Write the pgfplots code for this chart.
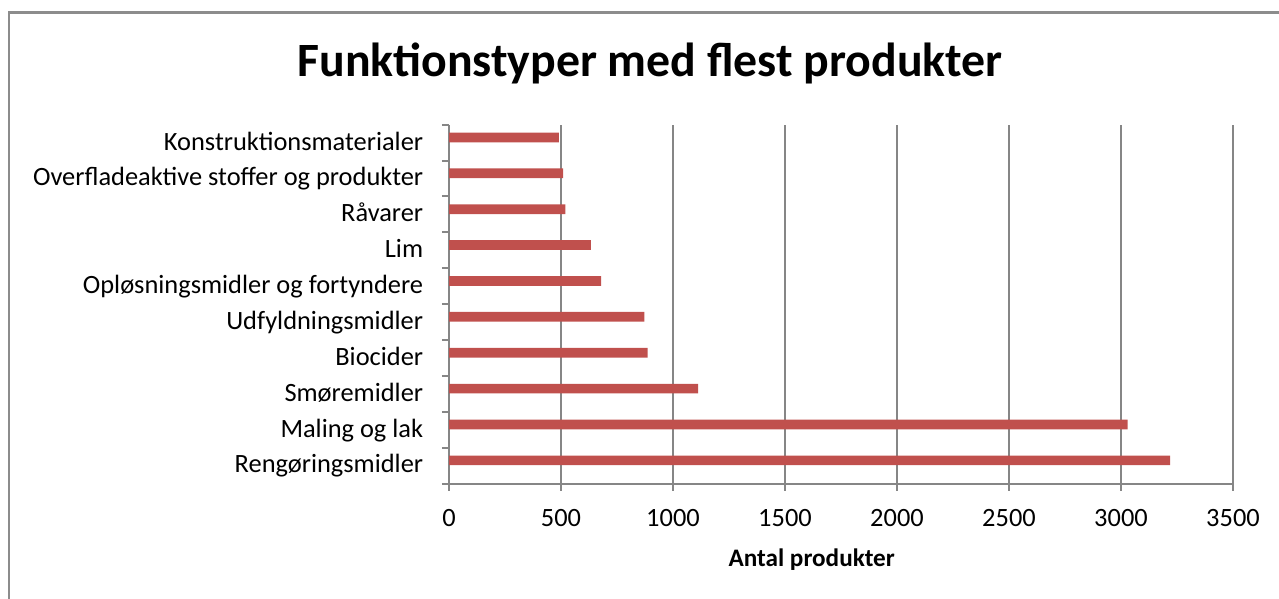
\documentclass[border=0pt]{standalone}
\usepackage{pgfplots}
\pgfplotsset{compat=1.18}
\usepackage{fontspec}
\setmainfont{Carlito}
\definecolor{barred}{HTML}{C0504D}
\definecolor{axisgray}{HTML}{868686}
\definecolor{framegray}{HTML}{8C8C8C}

\begin{document}
\begin{tikzpicture}
\useasboundingbox (0,0) rectangle (639.5pt,-299.5pt);
% chart frame (right and bottom edges lie outside the picture)
\draw[framegray, line width=1.3pt] (4.5pt,-320pt) -- (4.5pt,-6.35pt) -- (660pt,-6.35pt);
\begin{axis}[
    at={(224.5pt,-241.75pt)}, anchor=south west,
    scale only axis,
    width=392pt, height=179.4pt,
    xbar, bar width=4.85pt, bar shift=2.6pt,
    xmin=0, xmax=3500,
    ymin=0.5, ymax=10.5,
    xtick={0,500,...,3500},
    ytick={0.5,1.5,...,10.5},
    yticklabels={},
    extra y ticks={1,...,10},
    extra y tick labels={Rengøringsmidler, Maling og lak, Smøremidler, Biocider, Udfyldningsmidler, Opløsningsmidler og fortyndere, Lim, Råvarer, Overfladeaktive stoffer og produkter, Konstruktionsmaterialer},
    extra y tick style={major tick length=0pt, yticklabel style={anchor=base east, yshift=-3.7pt, xshift=-9.4pt}},
    axis lines*=left,
    axis line style={axisgray, line width=1pt},
    tick style={axisgray, line width=1pt},
    tick align=outside,
    major tick length=3.5pt,
    xmajorgrids, ymajorgrids=false,
    major grid style={axisgray, line width=1pt},
    /pgf/number format/assume math mode=true,
    /pgf/number format/1000 sep={},
    tick label style={font=\fontsize{13.2pt}{15pt}\selectfont, text=black},
    xticklabel style={anchor=base, yshift=-17.8pt},
    xlabel={Antal produkter},
    xlabel style={at={(axis description cs:0.4626,0)}, anchor=base, yshift=-41.25pt, font=\fontsize{12.6pt}{15pt}\selectfont\bfseries},
    title={Funktionstyper med flest produkter},
    title style={at={(axis description cs:0.2564,1)}, anchor=base, yshift=18pt, font=\fontsize{23.9pt}{28pt}\selectfont\bfseries},
]
\addplot[fill=barred, draw=none] coordinates {
    (3219,1) (3030,2) (1112,3) (887,4) (872,5)
    (679,6) (633,7) (520,8) (509,9) (490,10)
};
\end{axis}
\end{tikzpicture}
\end{document}
